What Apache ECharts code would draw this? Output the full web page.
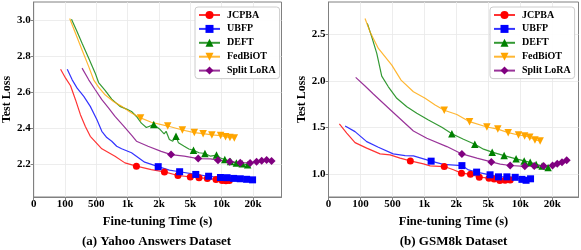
<!DOCTYPE html>
<html><head><meta charset="utf-8">
<script src="https://cdn.jsdelivr.net/npm/echarts@6/dist/echarts.min.js"></script>
<style>html,body{margin:0;padding:0;background:#fff}#c{width:581px;height:250px}</style>
</head><body><div id="c"></div>
<script>
// ---- axis ticks (fine-tuning time, seconds) ----
const tickValues = [0, 100, 500, 1000, 2000, 5000, 10000, 20000];
const tickLabels = ['0', '100', '500', '1k', '2k', '5k', '10k', '20k'];
const seriesNames = ['JCPBA', 'UBFP', 'DEFT', 'FedBiOT', 'Split LoRA'];
const panelTitles = ['(a) Yahoo Answers Dataset', '(b) GSM8k Dataset'];
const yTicksYahoo = [2.2, 2.4, 2.6, 2.8, 3.0];
const yTicksGsm = [1.0, 1.5, 2.0, 2.5];

// ---- (a) Yahoo Answers ----
const yahooJcpbaT = [86, 108, 171, 234, 297, 360, 423, 588, 798, 956, 1280, 1754, 2521, 3817, 5000, 6390, 7715, 9100, 10160, 11360, 12460];
const yahooJcpbaL = [2.728, 2.678, 2.636, 2.559, 2.476, 2.411, 2.356, 2.287, 2.246, 2.209, 2.191, 2.172, 2.159, 2.139, 2.131, 2.126, 2.123, 2.117, 2.112, 2.110, 2.112];
const yahooJcpbaMarks = [10, 12, 13, 14, 15, 16, 17, 18, 19, 20];

const yahooUbfpT = [129, 192, 255, 340, 423, 510, 588, 667, 746, 825, 904, 1123, 1543, 1975, 2993, 3977, 5870, 7920, 9810, 11730, 13820, 15930, 17980, 19870];
const yahooUbfpL = [2.727, 2.669, 2.623, 2.577, 2.522, 2.448, 2.384, 2.349, 2.329, 2.301, 2.287, 2.265, 2.213, 2.188, 2.169, 2.160, 2.145, 2.135, 2.128, 2.127, 2.123, 2.121, 2.118, 2.115];
const yahooUbfpMarks = [13, 15, 16, 17, 18, 19, 20, 21, 22, 23];

const yahooDeftT = [183, 255, 318, 403, 486, 536, 640, 746, 877, 983, 1123, 1281, 1438, 1596, 1833, 2048, 2492, 2681, 2993, 3314, 3629, 3863, 4412, 4859, 5505, 6390, 7335, 8235, 9180, 9810, 11000, 12840, 14700, 16560, 18300];
const yahooDeftL = [3.004, 2.935, 2.871, 2.789, 2.706, 2.654, 2.610, 2.562, 2.522, 2.507, 2.494, 2.466, 2.429, 2.405, 2.421, 2.397, 2.370, 2.384, 2.338, 2.329, 2.357, 2.320, 2.301, 2.286, 2.279, 2.265, 2.261, 2.246, 2.252, 2.236, 2.228, 2.217, 2.209, 2.204, 2.198];
const yahooDeftMarks = [14, 20, 24, 26, 28, 30, 31, 32, 33, 34];

const yahooFedT = [160, 234, 318, 403, 466, 536, 640, 773, 904, 1123, 1413, 1754, 2840, 4240, 5640, 7040, 8440, 9840, 11240, 12640, 14040];
const yahooFedL = [3.009, 2.927, 2.834, 2.742, 2.669, 2.629, 2.586, 2.549, 2.522, 2.485, 2.458, 2.434, 2.413, 2.391, 2.377, 2.371, 2.364, 2.360, 2.354, 2.349, 2.347];
const yahooFedMarks = [10, 12, 13, 14, 15, 16, 17, 18, 19, 20];

const yahooSplitT = [318, 403, 486, 588, 694, 798, 930, 1123, 1281, 1650, 2208, 3155, 4412, 6260, 8235, 9415, 12560, 15930, 19090, 22280, 25560, 28700, 31860];
const yahooSplitL = [2.734, 2.669, 2.614, 2.559, 2.513, 2.466, 2.415, 2.363, 2.329, 2.301, 2.273, 2.255, 2.246, 2.233, 2.231, 2.224, 2.215, 2.210, 2.209, 2.215, 2.221, 2.225, 2.219];
const yahooSplitMarks = [11, 13, 15, 16, 17, 18, 19, 20, 21, 22];

// ---- (b) GSM8k ----
const gsmJcpbaT = [34, 57, 83, 178, 345, 470, 620, 780, 985, 1179, 1620, 1909, 2480, 3320, 4150, 5100, 5900, 6800, 7620, 8420];
const gsmJcpbaL = [1.537, 1.437, 1.336, 1.276, 1.214, 1.204, 1.168, 1.139, 1.107, 1.086, 1.078, 1.043, 1.007, 0.996, 0.964, 0.953, 0.943, 0.928, 0.930, 0.932];
const gsmJcpbaMarks = [7, 10, 12, 13, 14, 15, 16, 17, 18, 19];

const gsmUbfpT = [52, 83, 178, 324, 512, 698, 828, 1210, 1595, 2520, 3134, 3900, 5270, 6590, 7900, 9200, 10500, 11800, 13200];
const gsmUbfpL = [1.515, 1.454, 1.346, 1.286, 1.214, 1.196, 1.193, 1.136, 1.101, 1.088, 1.042, 1.018, 0.989, 0.967, 0.967, 0.962, 0.940, 0.930, 0.946];
const gsmUbfpMarks = [7, 9, 11, 12, 13, 14, 15, 16, 17, 18];

const gsmDeftT = [186, 241, 304, 366, 449, 568, 725, 881, 1126, 1545, 1860, 2666, 3730, 4544, 5600, 7470, 9340, 11210, 13080, 14950, 16820, 18690];
const gsmDeftL = [2.620, 2.474, 2.296, 2.052, 1.937, 1.813, 1.722, 1.651, 1.579, 1.501, 1.432, 1.372, 1.318, 1.265, 1.233, 1.196, 1.161, 1.139, 1.123, 1.101, 1.085, 1.069];
const gsmDeftMarks = [10, 12, 14, 15, 16, 17, 18, 19, 20, 21];

const gsmFedT = [157, 220, 324, 492, 635, 828, 1022, 1335, 1620, 2045, 3240, 4860, 6480, 8100, 9720, 11340, 12960, 14580, 16200];
const gsmFedL = [2.672, 2.528, 2.350, 2.170, 2.009, 1.883, 1.813, 1.741, 1.684, 1.639, 1.561, 1.504, 1.481, 1.443, 1.418, 1.408, 1.394, 1.365, 1.354];
const gsmFedMarks = [8, 10, 11, 12, 13, 14, 15, 16, 17, 18];

const gsmSplitT = [85, 157, 261, 483, 828, 1075, 1702, 2516, 3924, 5460, 6855, 8420, 11400, 14360, 17300, 20180, 23120, 26060, 29000];
const gsmSplitL = [2.038, 1.945, 1.859, 1.682, 1.461, 1.383, 1.293, 1.214, 1.168, 1.128, 1.104, 1.089, 1.080, 1.085, 1.083, 1.089, 1.107, 1.125, 1.147];
const gsmSplitMarks = [7, 9, 11, 12, 13, 14, 15, 16, 17, 18];

// ---- presentation ----
const colors = ['#ff0000', '#0000ff', '#008000', '#ffa500', '#800080'];
const symbols = ['circle', 'rect', 'triangle', 'triangle', 'diamond'];
const symbolRot = [0, 0, 0, 180, 0];
const symbolSizes = [7, 7, 7.5, 7.5, 8];
const FONT = 'Liberation Serif';

// piecewise time -> axis position (equal spacing between tick values)
function toPos(t) {
  for (let i = 0; i < tickValues.length - 1; i++) {
    if (t <= tickValues[i + 1]) return i + (t - tickValues[i]) / (tickValues[i + 1] - tickValues[i]);
  }
  return tickValues.length - 1 + (t - tickValues[tickValues.length - 1]) / 20000;
}

const panels = [
  [[yahooJcpbaT, yahooJcpbaL, yahooJcpbaMarks], [yahooUbfpT, yahooUbfpL, yahooUbfpMarks], [yahooDeftT, yahooDeftL, yahooDeftMarks], [yahooFedT, yahooFedL, yahooFedMarks], [yahooSplitT, yahooSplitL, yahooSplitMarks]],
  [[gsmJcpbaT, gsmJcpbaL, gsmJcpbaMarks], [gsmUbfpT, gsmUbfpL, gsmUbfpMarks], [gsmDeftT, gsmDeftL, gsmDeftMarks], [gsmFedT, gsmFedL, gsmFedMarks], [gsmSplitT, gsmSplitL, gsmSplitMarks]]
];

const series = [];
panels.forEach((p, gi) => {
  p.forEach((d, si) => {
    const [t, l, marks] = d;
    const ms = new Set(marks);
    series.push({
      type: 'line', name: seriesNames[si], xAxisIndex: gi, yAxisIndex: gi,
      symbol: symbols[si], symbolRotate: symbolRot[si], symbolSize: symbolSizes[si], showSymbol: true,
      data: t.map((tt, i) => ms.has(i) ? [toPos(tt), l[i]] : { value: [toPos(tt), l[i]], symbol: 'none' }),
      lineStyle: { color: colors[si], width: 1.2, opacity: 0.8 },
      itemStyle: { color: colors[si], opacity: 1 },
      emphasis: { disabled: true }, silent: true, animation: false, clip: true
    });
  });
});

const grids = [
  { left: 31.5, top: 2, width: 250, height: 195 },
  { left: 328.5, top: 2, width: 250, height: 195 }
];
const xMax = [7.91, 7.82];
const yRange = [[2.02, 3.10], [0.75, 2.85]];
const yTicks = [yTicksYahoo, yTicksGsm];
const yNameGap = [18, 18.5];
const axisColor = '#808080';
const gridColor = '#e8e8e8';
const labelStyle = { fontFamily: FONT, fontWeight: 'bold', color: '#000', fontSize: 11 };

const option = {
  animation: false,
  grid: grids.map(g => Object.assign({ show: true, borderColor: axisColor, borderWidth: 1, backgroundColor: '#fff' }, g)),
  xAxis: [0, 1].map(gi => ({
    type: 'value', gridIndex: gi, min: 0, max: xMax[gi],
    name: 'Fine-tuning Time (s)', nameLocation: 'middle', nameGap: 12,
    nameTextStyle: { fontFamily: FONT, fontWeight: 'bold', fontSize: 12.5, color: '#000' },
    axisLine: { show: true, lineStyle: { color: axisColor } },
    axisTick: { show: true, length: 3, lineStyle: { color: axisColor }, customValues: tickValues.map((v, i) => i) },
    axisLabel: Object.assign({ margin: 2, customValues: tickValues.map((v, i) => i), formatter: v => tickLabels[Math.round(v)] }, labelStyle),
    splitLine: { show: true, lineStyle: { color: gridColor, width: 0.8 } }
  })),
  yAxis: [0, 1].map(gi => ({
    type: 'value', gridIndex: gi, min: yRange[gi][0], max: yRange[gi][1],
    name: 'Test Loss', nameLocation: 'middle', nameGap: yNameGap[gi],
    nameTextStyle: { fontFamily: FONT, fontWeight: 'bold', fontSize: 12, color: '#000' },
    axisLine: { show: true, lineStyle: { color: axisColor } },
    axisTick: { show: true, length: 3, lineStyle: { color: axisColor }, customValues: yTicks[gi] },
    axisLabel: Object.assign({ margin: 3, customValues: yTicks[gi], formatter: v => v.toFixed(1) }, labelStyle),
    splitLine: { show: true, lineStyle: { color: gridColor, width: 0.8 } }
  })),
  legend: [195, 490].map(lx => ({
    left: lx, top: 7, orient: 'vertical', itemWidth: 21, itemHeight: 10, itemGap: 3.9,
    padding: [3, 4, 3, 3], backgroundColor: 'rgba(255,255,255,0.9)', borderColor: '#cccccc', borderWidth: 1, borderRadius: 3,
    data: seriesNames, selectedMode: false,
    textStyle: { fontFamily: FONT, fontWeight: 'bold', fontSize: 10, color: '#000', padding: [0, 0, 0, 2] }
  })),
  graphic: panelTitles.map((txt, gi) => ({
    type: 'text', left: null, x: grids[gi].left + grids[gi].width / 2, y: 241.5,
    style: { text: txt, fontFamily: FONT, fontWeight: 'bold', fontSize: 13, fill: '#000', textAlign: 'center', textVerticalAlign: 'middle' }
  })),
  series: series
};
const chart = echarts.init(document.getElementById('c'), null, { renderer: 'canvas' });
chart.setOption(option);
</script></body></html>
